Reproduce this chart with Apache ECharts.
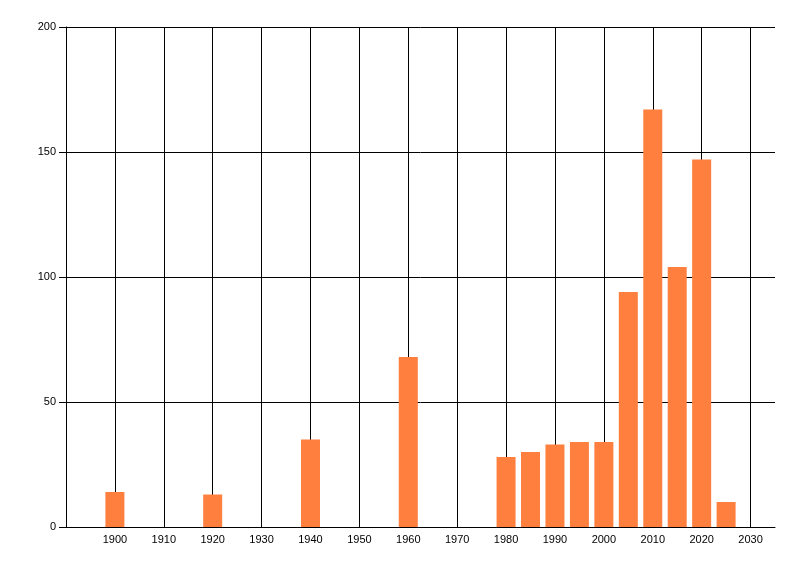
<!DOCTYPE html>
<html>
<head>
<meta charset="utf-8">
<script src="https://cdn.jsdelivr.net/npm/echarts@6/dist/echarts.min.js"></script>
<style>
  html, body { margin: 0; padding: 0; background: #fff; }
  #main { width: 800px; height: 576px; }
</style>
</head>
<body>
<div id="main"></div>
<script>
var myChart = echarts.init(document.getElementById('main'));

// 数据
var years  = [1900, 1920, 1940, 1960, 1980, 1985, 1990, 1995, 2000, 2005, 2010, 2015, 2020, 2025];
var values = [14,   13,   35,   68,   28,   30,   33,   34,   34,   94,   167,  104,  147,  10];

var barColor = '#FF7F3F';

var seriesData = years.map(function (y, i) { return [y, values[i]]; });

option = {
    animation: false,
    backgroundColor: '#ffffff',
    grid: {
        left: 66,
        right: 25,
        top: 27,
        bottom: 49
    },
    xAxis: {
        type: 'value',
        min: 1890,
        max: 2035,
        interval: 10,
        axisLine: { show: true, lineStyle: { color: '#000', width: 1 } },
        axisTick: { show: false },
        axisLabel: {
            color: '#000',
            fontFamily: 'Liberation Sans',
            fontSize: 11,
            margin: 7,
            formatter: function (v) {
                if (v === 1890 || v % 10 !== 0) return '';
                return v;
            }
        },
        splitLine: {
            show: true,
            showMinLine: false,
            showMaxLine: false,
            lineStyle: { color: '#000', width: 1 }
        }
    },
    yAxis: {
        type: 'value',
        min: 0,
        max: 200,
        interval: 50,
        axisLine: { show: true, lineStyle: { color: '#000', width: 1 } },
        axisTick: { show: true, length: 7, lineStyle: { color: '#000' } },
        axisLabel: {
            color: '#000',
            fontFamily: 'Liberation Sans',
            fontSize: 11,
            margin: 10
        },
        splitLine: {
            show: true,
            lineStyle: { color: '#000', width: 1 }
        }
    },
    series: [
        {
            type: 'bar',
            data: seriesData,
            barWidth: 19,
            itemStyle: { color: barColor }
        }
    ]
};

myChart.setOption(option);
</script>
</body>
</html>
